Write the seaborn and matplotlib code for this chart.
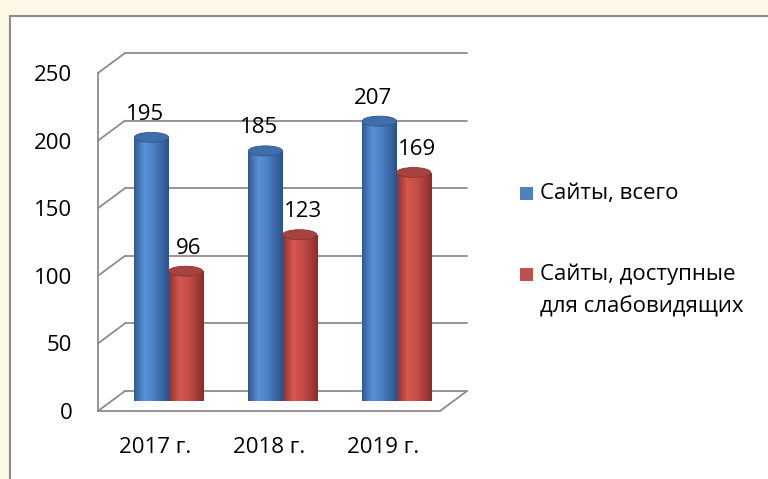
import numpy as np
import pandas as pd
import matplotlib
matplotlib.use('Agg')
import matplotlib.pyplot as plt
from matplotlib.patches import Rectangle, Ellipse
from matplotlib.colors import LinearSegmentedColormap
import seaborn as sns

# data
years = ['2017 г.', '2018 г.', '2019 г.']
series = ['Сайты, всего', 'Сайты, доступные\nдля слабовидящих']
total_sites = [195, 185, 207]
accessible_sites = [96, 123, 169]
y_ticks = [0, 50, 100, 150, 200, 250]

blue = '#4F81BD'
red = '#C0504D'
grid_c = '#8C8C8C'

df = pd.DataFrame({
    'year': years * 2,
    'series': [series[0]] * 3 + [series[1]] * 3,
    'value': total_sites + accessible_sites,
})

sns.set_style('white')
plt.rcParams['font.family'] = ['Open Sans', 'DejaVu Sans']
plt.rcParams['font.size'] = 16
plt.rcParams['text.color'] = 'black'
plt.rcParams['xtick.color'] = 'black'
plt.rcParams['ytick.color'] = 'black'

W, H = 768, 479
fig = plt.figure(figsize=(W / 100, H / 100), dpi=100)
fig.patch.set_facecolor('#FEF9E6')
# white chart area with grey frame
fig.patches.append(Rectangle((10 / W, -0.1), 1.1, 1.1 - 16 / H, transform=fig.transFigure,
                             facecolor='white', edgecolor=grid_c, lw=1.5, zorder=-5))

PW, PH = 342, 338          # plot plane size in px
def plane(left_px, zero_px):
    a = fig.add_axes([left_px / W, (H - zero_px) / H, PW / W, PH / H])
    a.set_xlim(-0.5, 2.5)
    a.set_ylim(0, 250)
    a.patch.set_alpha(0)
    return a

back = plane(125, 391)     # back wall
mid = plane(111.5, 401)    # plane of the cylinders
front = plane(98, 411)     # front axis plane

# back wall gridlines
for v in y_ticks:
    back.axhline(v, color=grid_c, lw=1.3, clip_on=False)
back.axis('off')

# cylinders
sns.barplot(data=df, x='year', y='value', hue='series', palette=[blue, red], width=0.6,
            saturation=1, linewidth=0, ax=mid, legend=False)

DX = 13.5 / (PW / 3)       # depth offset in category units
DY = 10 / (PH / 250)       # depth offset in value units
EH = 10 / (PH / 250)       # ellipse height in value units

cmaps = [
    LinearSegmentedColormap.from_list('b', [(0, '#2F5A92'), (0.3, '#5B90D6'), (0.55, '#4E82C6'), (1, '#2B5288')]),
    LinearSegmentedColormap.from_list('r', [(0, '#93302D'), (0.3, '#D5584F'), (0.55, '#C64F4A'), (1, '#8A2C29')]),
]
tops = ['#3F6EAA', '#A7423E']
label_dx = [-6, 3]
grad = np.linspace(0, 1, 256).reshape(1, -1)
vals = [total_sites, accessible_sites]

for i, cont in enumerate(mid.containers):
    for bar, val in zip(cont, vals[i]):
        x, w, h = bar.get_x(), bar.get_width(), bar.get_height()
        cx = x + w / 2
        bar.set_zorder(3)
        bottom = Ellipse((cx, 0), w, EH, facecolor=cmaps[i](0.5), lw=0, zorder=2)
        mid.add_patch(bottom)
        im = mid.imshow(grad, cmap=cmaps[i], extent=[x, x + w, -EH, h], aspect='auto', zorder=2.1)
        im.set_clip_path(bottom)
        im = mid.imshow(grad, cmap=cmaps[i], extent=[x, x + w, -EH, h], aspect='auto', zorder=3.1)
        im.set_clip_path(bar)
        mid.add_patch(Ellipse((cx, h), w, EH, facecolor=tops[i], edgecolor=cmaps[i](0.95),
                              lw=0.6, zorder=4))
        mid.annotate(str(val), (cx, h), xytext=(label_dx[i], 23), textcoords='offset pixels',
                     ha='center', va='center', fontsize=16, zorder=5)

# side wall and floor diagonals
for v in y_ticks:
    mid.plot([-0.5 - DX, -0.5 + DX], [v - DY, v + DY], color=grid_c, lw=1.3, clip_on=False, zorder=0.5)
mid.plot([2.5 - DX, 2.5 + DX], [-DY, DY], color=grid_c, lw=1.3, clip_on=False, zorder=0.5)
mid.set_xlim(-0.5, 2.5)
mid.set_ylim(0, 250)
mid.axis('off')

# front axes with ticks and labels
for s in ['top', 'right']:
    front.spines[s].set_visible(False)
for s in ['left', 'bottom']:
    front.spines[s].set_color(grid_c)
    front.spines[s].set_linewidth(1.3)
front.set_yticks(y_ticks)
front.set_yticklabels([str(t) for t in y_ticks])
front.tick_params(axis='y', length=6.5, width=1.3, color=grid_c, pad=12, labelsize=16)
front.set_xticks([0, 1, 2])
front.set_xticklabels(years)
front.set_xticks([-0.5, 0.5, 1.5, 2.5], minor=True)
front.tick_params(axis='x', which='major', length=0, pad=19, labelsize=16)
front.tick_params(axis='x', which='minor', length=6, width=1.3, color=grid_c)
front.set_xlabel('')
front.set_ylabel('')

# legend
colors = [blue, red]
centers = [193, 274]
for col, lab, cy in zip(colors, series, centers):
    fig.patches.append(Rectangle((520 / W, (H - cy - 6.5) / H), 13 / W, 13 / H,
                                 transform=fig.transFigure, facecolor=col, lw=0))
    for k, line in enumerate(lab.split('\n')):
        fig.text(540 / W, (H - cy - 33 * k) / H, line, va='center', ha='left', fontsize=16)

fig.savefig('out.png', dpi=100)
